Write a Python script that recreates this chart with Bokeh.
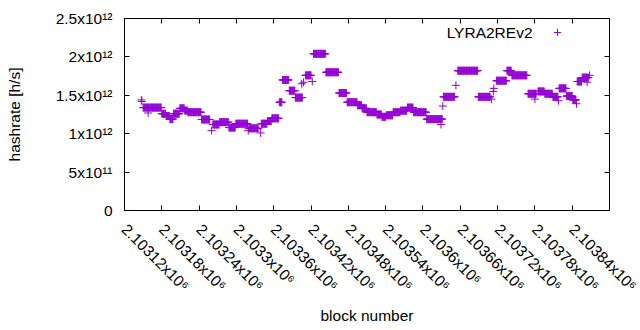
import numpy as np
from bokeh.plotting import figure
from bokeh.models import Range1d, FixedTicker, LinearAxis, Label, Legend, LegendItem, ColumnDataSource
from bokeh.embed import file_html
from bokeh.resources import INLINE
import math

# Runs of consecutive blocks sharing the same hashrate (first block, last block, value)
run_start = [2103150, 2103180, 2103187, 2103193, 2103199, 2103209, 2103217, 2103222, 2103244,
             2103262, 2103273, 2103288, 2103299, 2103320, 2103340, 2103350, 2103357, 2103369,
             2103374, 2103385, 2103395, 2103411, 2103424, 2103444, 2103465, 2103478, 2103495,
             2103502, 2103510, 2103526, 2103534, 2103541, 2103552, 2103564, 2103575, 2103585,
             2103606, 2103633, 2103656, 2103689, 2103718, 2103735, 2103743, 2103769, 2103785,
             2103796, 2103809, 2103819, 2103831, 2103841, 2103848, 2103856]
run_end = [2103179, 2103186, 2103192, 2103198, 2103208, 2103216, 2103221, 2103243, 2103257,
           2103272, 2103287, 2103298, 2103318, 2103335, 2103349, 2103356, 2103368, 2103373,
           2103384, 2103394, 2103406, 2103420, 2103443, 2103464, 2103477, 2103494, 2103501,
           2103509, 2103525, 2103533, 2103540, 2103551, 2103563, 2103574, 2103584, 2103605,
           2103631, 2103651, 2103688, 2103708, 2103734, 2103742, 2103767, 2103782, 2103795,
           2103808, 2103817, 2103830, 2103840, 2103846, 2103855, 2103866]
run_value = [1.34e12, 1.26e12, 1.23e12, 1.19e12, 1.26e12, 1.33e12, 1.30e12, 1.28e12, 1.185e12,
             1.12e12, 1.15e12, 1.08e12, 1.13e12, 1.07e12, 1.13e12, 1.165e12, 1.20e12, 1.41e12,
             1.70e12, 1.56e12, 1.47e12, 1.76e12, 2.04e12, 1.80e12, 1.53e12, 1.41e12, 1.37e12,
             1.33e12, 1.28e12, 1.25e12, 1.22e12, 1.24e12, 1.28e12, 1.30e12, 1.34e12, 1.28e12,
             1.19e12, 1.48e12, 1.82e12, 1.48e12, 1.69e12, 1.82e12, 1.76e12, 1.52e12, 1.55e12,
             1.52e12, 1.48e12, 1.59e12, 1.49e12, 1.44e12, 1.68e12, 1.73e12]

# Single blocks that stand apart
single_block = [2103147, 2103148, 2103158, 2103260, 2103319, 2103339, 2103405, 2103408, 2103422,
                2103629, 2103632, 2103653, 2103710, 2103713, 2103714, 2103780, 2103818, 2103847,
                2103864, 2103868]
single_value = [1.44e12, 1.42e12, 1.27e12, 1.04e12, 1.04e12, 1.01e12, 1.65e12, 1.67e12, 1.68e12,
                1.12e12, 1.36e12, 1.63e12, 1.45e12, 1.55e12, 1.59e12, 1.45e12, 1.43e12, 1.39e12,
                1.67e12, 1.76e12]

x_tick_values = [2103120, 2103180, 2103240, 2103300, 2103360, 2103420, 2103480,
                 2103540, 2103600, 2103660, 2103720, 2103780, 2103840, 2103900]
x_tick_labels = ["2.10312x10⁶", "2.10318x10⁶", "2.10324x10⁶", "2.1033x10⁶", "2.10336x10⁶",
                 "2.10342x10⁶", "2.10348x10⁶", "2.10354x10⁶", "2.1036x10⁶", "2.10366x10⁶",
                 "2.10372x10⁶", "2.10378x10⁶", "2.10384x10⁶", "2.1039x10⁶"]
y_tick_values = [0, 5e11, 1e12, 1.5e12, 2e12, 2.5e12]
y_tick_labels = ["0", "5x10¹¹", "1x10¹²", "1.5x10¹²", "2x10¹²", "2.5x10¹²"]

series_name = "LYRA2REv2"
COLOR = "#9400d3"
FONT = "Liberation Sans"
FS = "15.5px"

blocks = []
values = []
for s, e, v in zip(run_start, run_end, run_value):
    for b in range(s, e + 1):
        blocks.append(b)
        values.append(v)
blocks += single_block
values += single_value
src = ColumnDataSource(dict(block=blocks, rate=values))

p = figure(frame_width=485, frame_height=192,
           min_border_left=124, min_border_right=31, min_border_top=18, min_border_bottom=120,
           x_range=Range1d(2103120, 2103900), y_range=Range1d(0, 2.5e12),
           output_backend="svg", toolbar_location=None,
           x_axis_label="block number", y_axis_label="hashrate [h/s]")
p.xgrid.visible = False
p.ygrid.visible = False
p.outline_line_color = "black"
p.outline_line_width = 1
p.background_fill_color = "white"
p.border_fill_color = "white"

r = p.scatter("block", "rate", source=src, marker="cross", size=8,
              line_color=COLOR, line_width=1)

def style(ax, ticks, labels, show_labels=True):
    ax.ticker = FixedTicker(ticks=ticks)
    ax.axis_line_color = "black"
    ax.major_tick_line_color = "black"
    ax.major_tick_in = 5
    ax.major_tick_out = 0
    ax.minor_tick_line_color = None
    ax.major_label_text_font = FONT
    ax.axis_label_text_font = FONT
    ax.axis_label_text_font_style = "normal"
    ax.axis_label_text_font_size = FS
    ax.axis_label_text_color = "black"
    if show_labels:
        ax.major_label_overrides = {t: l for t, l in zip(ticks, labels)}
        ax.major_label_text_font_size = FS
        ax.major_label_text_color = "black"
    else:
        ax.major_label_text_color = None
        ax.major_label_text_font_size = "1px"
        ax.major_label_standoff = 0

xa = p.xaxis[0]
ya = p.yaxis[0]
# the last tick sits on the right border; its label runs off the page and is drawn separately
style(xa, x_tick_values[:-1], x_tick_labels[:-1])
style(ya, y_tick_values, y_tick_labels)
xa.major_label_orientation = -math.pi / 4
xa.major_label_standoff = 16
ya.major_label_standoff = 12
ya.axis_label_standoff = 30
xa.axis_label_standoff = 4

p.add_layout(Label(x=x_tick_values[-1], y=-16, x_units="data", y_units="screen",
                   text=x_tick_labels[-1], angle=-math.pi / 4,
                   text_align="left", text_baseline="middle", text_font=FONT,
                   text_font_size=FS, text_color="black"))

top = LinearAxis()
style(top, x_tick_values, x_tick_labels, show_labels=False)
p.add_layout(top, "above")
right = LinearAxis()
style(right, y_tick_values, y_tick_labels, show_labels=False)
p.add_layout(right, "right")

p.add_layout(Label(x=408, y=178, x_units="screen", y_units="screen", text=series_name,
                   text_align="right", text_baseline="middle", text_font=FONT,
                   text_font_size=FS, text_color="black"))
leg = Legend(items=[LegendItem(label="", renderers=[r])], location=(424, 169),
             padding=0, margin=0, spacing=0, label_standoff=0, glyph_width=18, glyph_height=18,
             border_line_color=None, background_fill_alpha=0)
p.add_layout(leg)

open("out.html", "w").write(file_html(p, INLINE))
